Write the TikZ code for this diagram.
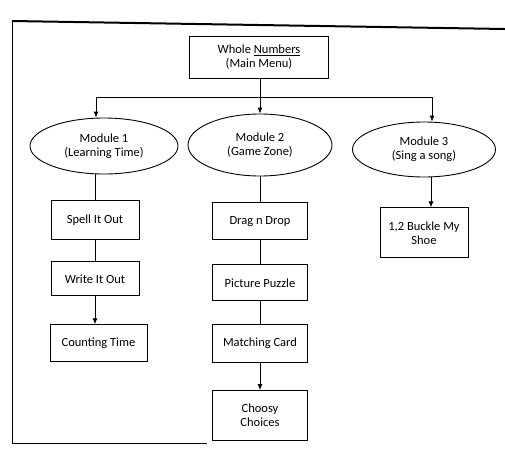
\documentclass[tikz,border=0pt]{standalone}
\usepackage{fontspec}
\setmainfont{Carlito}
\usepackage{tikz}
\usetikzlibrary{arrows.meta, positioning, shapes.geometric}
\tikzset{
    menubox/.style={
        rectangle,
        draw=black,
        line width=0.9pt,
        minimum width=95pt,
        minimum height=37pt,
        align=center,
        font=\fontsize{12.5}{14}\selectfont
    },
    module/.style={
        ellipse,
        draw=black,
        line width=0.9pt,
        minimum width=146pt,
        minimum height=56pt,
        inner sep=0pt,
        align=center,
        font=\fontsize{12.5}{14}\selectfont
    },
    link/.style={
        draw=black,
        line width=0.9pt
    },
    arrow/.style={
        draw=black,
        line width=0.9pt,
        -{Latex[length=6pt,width=5pt]}
    }
}

\begin{document}
\begin{tikzpicture}[x=1pt, y=-1pt]
\useasboundingbox (0,0) rectangle (505,448);

% Frame of the page
\draw[line width=2pt] (12,21) -- (505,29);
\draw[line width=1pt] (12,21) -- (12,443) -- (207,443);

% Main menu
\node[menubox, minimum width=139pt, minimum height=42pt] (main) at (259,57) {Whole \underline{Numbers}\\(Main Menu)};

% Modules
\node[module, minimum width=148pt] (m1) at (104,146) {Module 1\\(Learning Time)};
\node[module, minimum width=144pt, minimum height=62pt] (m2) at (260,145) {Module 2\\(Game Zone)};
\node[module, minimum width=143pt, minimum height=55pt] (m3) at (424,149.5) {Module 3\\(Sing a song)};

% Learning Time
\node[menubox, minimum width=88pt, minimum height=39pt, below=26pt of m1, xshift=-9pt] (spell) {Spell It Out};
\node[menubox, minimum width=88pt, minimum height=34pt, below=21pt of spell] (write) {Write It Out};
\node[menubox, minimum width=97pt, below=28pt of write, xshift=3.5pt] (counting) {Counting Time};

% Game Zone
\node[menubox, below=26pt of m2] (drag) {Drag n Drop};
\node[menubox, minimum height=36pt, below=24pt of drag] (picture) {Picture Puzzle};
\node[menubox, minimum height=38pt, below=23pt of picture] (matching) {Matching Card};
\node[menubox, minimum height=50pt, below=27pt of matching] (choosy) {Choosy\\Choices};

% Sing a song
\node[menubox, minimum width=88pt, minimum height=50pt, below=30pt of m3] (buckle) {1,2 Buckle My\\Shoe};

% Connections
\coordinate (busL) at (96,97);
\coordinate (busR) at (432,97);
\draw[link] (busL) -- (busR);
\draw[arrow] (m2.north |- main.south) -- (m2);
\draw[arrow] (busL) -- (busL |- m1.north);
\draw[arrow] (busR) -- (busR |- m3.north);

\draw[link] (spell.north |- m1.south) -- (spell);
\draw[link] (spell) -- (write);
\draw[arrow] (write) -- (write |- counting.north);

\draw[link] (m2) -- (drag);
\draw[link] (drag) -- (picture);
\draw[link] (picture) -- (matching);
\draw[arrow] (matching) -- (choosy);

\draw[arrow] ([xshift=7pt]m3.south) -- ([xshift=7pt]m3.south |- buckle.north);

\end{tikzpicture}
\end{document}
